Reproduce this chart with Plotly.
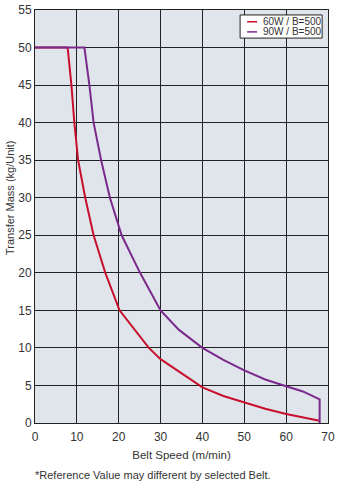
import plotly.graph_objects as go

# Belt speed (m/min) vs transfer mass (kg/Unit)
speed_60w = [0, 7.8, 8.7, 9.4, 10.3, 12.0, 14.0, 16.8, 20.2, 23.9, 27.2, 30.0, 35.0, 40.0, 45.0, 50.0, 55.0, 60.0, 64.0, 68.0]
mass_60w = [50, 50, 45, 40, 35, 30, 25, 20, 15, 12.4, 10, 8.5, 6.6, 4.75, 3.6, 2.7, 1.9, 1.2, 0.75, 0.3]

speed_90w = [0, 11.8, 13.0, 14.0, 15.8, 17.9, 20.7, 25.1, 30.0, 34.4, 40.0, 45.0, 50.0, 55.0, 60.0, 64.0, 68.0, 68.0]
mass_90w = [50, 50, 45, 40, 35, 30, 25, 20, 15, 12.4, 10, 8.4, 7.0, 5.8, 4.9, 4.2, 3.15, 0]

series_names = ["60W / B=500", "90W / B=500"]
series_colors = ["#c8102e", "#7a2a8c"]
x_ticks = [0, 10, 20, 30, 40, 50, 60, 70]
y_ticks = [0, 5, 10, 15, 20, 25, 30, 35, 40, 45, 50, 55]

FONT = "Liberation Sans, Arial, sans-serif"
TEXT = "#333333"

fig = go.Figure()
fig.add_trace(go.Scatter(x=speed_60w, y=mass_60w, mode="lines", name=series_names[0],
                         line=dict(color=series_colors[0], width=2)))
fig.add_trace(go.Scatter(x=speed_90w, y=mass_90w, mode="lines", name=series_names[1],
                         line=dict(color=series_colors[1], width=2)))

# compact boxed legend in the upper right corner (paper coordinates)
shapes = [dict(type="rect", xref="paper", yref="paper", x0=0.700, x1=0.980, y0=0.932, y1=0.988,
               line=dict(color="#222222", width=1), fillcolor="white", layer="above")]
annotations = []
for i, (name, color) in enumerate(zip(series_names, series_colors)):
    yy = 0.9715 - i * 0.0245
    shapes.append(dict(type="line", xref="paper", yref="paper", x0=0.724, x1=0.758, y0=yy, y1=yy,
                       line=dict(color=color, width=1.5), layer="above"))
    annotations.append(dict(text=name, xref="paper", yref="paper", x=0.77, y=yy,
                            xanchor="left", yanchor="middle", showarrow=False,
                            font=dict(size=10, color=TEXT)))

# vertical axis title
annotations.append(dict(text="Transfer Mass (kg/Unit)", xref="paper", yref="paper",
                        x=-0.085, y=0.545, xanchor="center", yanchor="middle", textangle=-90,
                        showarrow=False, font=dict(size=11, color=TEXT)))

# footnote
annotations.append(dict(text="*Reference Value may different by selected Belt.",
                        xref="paper", yref="paper", x=-0.007, y=-0.126, xanchor="left", yanchor="middle",
                        showarrow=False, font=dict(size=11, color=TEXT)))

fig.update_layout(
    width=348, height=493,
    margin=dict(l=35, r=20, t=10, b=70),
    paper_bgcolor="white",
    plot_bgcolor="#dfe5eb",
    font=dict(family=FONT, size=12, color=TEXT),
    showlegend=False,
    shapes=shapes,
    annotations=annotations,
    xaxis=dict(range=[0, 70], tickvals=x_ticks, showgrid=True, gridcolor="#222222", gridwidth=1,
               zeroline=False, showline=True, linecolor="#222222", linewidth=1, mirror=True,
               ticks="outside", ticklen=3, tickcolor="rgba(0,0,0,0)", automargin=False,
               title=dict(text="Belt Speed (m/min)", font=dict(size=11.5), standoff=7)),
    yaxis=dict(range=[0, 55], tickvals=y_ticks, showgrid=True, gridcolor="#222222", gridwidth=1,
               zeroline=False, showline=True, linecolor="#222222", linewidth=1, mirror=True,
               ticks="", automargin=False),
)

fig.write_html("out.html")
